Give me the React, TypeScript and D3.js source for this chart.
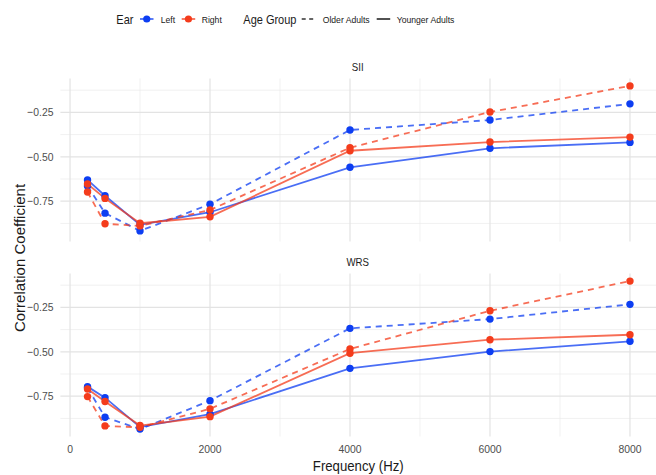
import React from "react";
import * as d3 from "d3";

const freqs = [250, 500, 1000, 2000, 4000, 6000, 8000];
const panels = ["SII", "WRS"];

const siiLeftYounger = [-0.63, -0.719, -0.883, -0.812, -0.559, -0.452, -0.419];
const siiLeftOlder = [-0.664, -0.817, -0.917, -0.767, -0.349, -0.293, -0.202];
const siiRightYounger = [-0.653, -0.734, -0.874, -0.838, -0.466, -0.417, -0.389];
const siiRightOlder = [-0.698, -0.877, -0.889, -0.799, -0.449, -0.248, -0.101];

const wrsLeftYounger = [-0.696, -0.758, -0.924, -0.851, -0.593, -0.499, -0.441];
const wrsLeftOlder = [-0.703, -0.868, -0.935, -0.775, -0.368, -0.316, -0.233];
const wrsRightYounger = [-0.709, -0.78, -0.915, -0.865, -0.508, -0.432, -0.404];
const wrsRightOlder = [-0.752, -0.917, -0.925, -0.821, -0.484, -0.269, -0.102];

const xTicks = [0, 2000, 4000, 6000, 8000];
const xMinor = [1000, 3000, 5000, 7000];
const yTicks = [-0.25, -0.5, -0.75];
const yMinor = [-0.125, -0.375, -0.625, -0.875];

const ears = ["Left", "Right"];
const ages = ["Older Adults", "Younger Adults"];

const earColor: Record<string, string> = { Left: "#0d3ef2", Right: "#f43c1c" };
const ageDash: Record<string, string> = { "Older Adults": "6 5", "Younger Adults": "none" };

const seriesByPanel: Record<string, { ear: string; age: string; values: number[] }[]> = {
  SII: [
    { ear: "Left", age: "Older Adults", values: siiLeftOlder },
    { ear: "Left", age: "Younger Adults", values: siiLeftYounger },
    { ear: "Right", age: "Older Adults", values: siiRightOlder },
    { ear: "Right", age: "Younger Adults", values: siiRightYounger },
  ],
  WRS: [
    { ear: "Left", age: "Older Adults", values: wrsLeftOlder },
    { ear: "Left", age: "Younger Adults", values: wrsLeftYounger },
    { ear: "Right", age: "Older Adults", values: wrsRightOlder },
    { ear: "Right", age: "Younger Adults", values: wrsRightYounger },
  ],
};

const W = 656;
const H = 475;
const SX = 0.88; // horizontal text compression seen in the reference
const FONT = "'Liberation Sans', Arial, Helvetica, sans-serif";

function HText({ x, y, anchor = "middle", size, fill = "#1a1a1a", children }: any) {
  return (
    <text
      transform={`translate(${x},${y}) scale(${SX},1)`}
      textAnchor={anchor}
      fontSize={size}
      fill={fill}
      fontFamily={FONT}
    >
      {children}
    </text>
  );
}

export default function App() {
  const allVals = panels.flatMap((p) => seriesByPanel[p].flatMap((s) => s.values));
  const [ymin, ymax] = d3.extent(allVals) as [number, number];
  const ypad = (ymax - ymin) * 0.05;
  const [xmin, xmax] = d3.extent(freqs) as [number, number];
  const xpad = (xmax - xmin) * 0.05;

  const panelLeft = 60.4;
  const panelRight = 657.1;
  const panelH = 163;
  const panelTops = [78.5, 273.5];

  const x = d3.scaleLinear().domain([xmin - xpad, xmax + xpad]).range([panelLeft, panelRight]);

  return (
    <svg width={W} height={H} style={{ position: "absolute", left: 0, top: 0, background: "#fff" }}>
      <rect x={0} y={0} width={W} height={H} fill="#fff" />
      {/* Legend */}
      <g>
        <HText x={116.3} y={23.5} anchor="start" size={12.5}>Ear</HText>
        {ears.map((e, i) => {
          const kx = [140, 181.7][i];
          const tx = [160.7, 201.7][i];
          return (
            <g key={e}>
              <line x1={kx} x2={kx + 13.5} y1={19} y2={19} stroke={earColor[e]} strokeWidth={1.7} strokeOpacity={0.8} />
              <circle cx={kx + 6.75} cy={19} r={3.6} fill={earColor[e]} />
              <HText x={tx} y={22.5} anchor="start" size={9.8}>{e}</HText>
            </g>
          );
        })}
        <HText x={243.3} y={23.5} anchor="start" size={12.5}>Age Group</HText>
        {ages.map((a, i) => {
          const kx = [301.7, 376.7][i];
          const tx = [322.7, 396.7][i];
          return (
            <g key={a}>
              <line x1={kx} x2={kx + 13.5} y1={19} y2={19} stroke="#333" strokeWidth={1.7} strokeDasharray={a === "Older Adults" ? "4 3.5" : "none"} />
              <HText x={tx} y={22.5} anchor="start" size={9.8}>{a}</HText>
            </g>
          );
        })}
      </g>

      {panels.map((p, pi) => {
        const top = panelTops[pi];
        const y = d3.scaleLinear().domain([ymin - ypad, ymax + ypad]).range([top + panelH, top]);
        const line = d3
          .line<number>()
          .x((_, i) => x(freqs[i]))
          .y((v) => y(v));
        return (
          <g key={p}>
            <defs>
              <clipPath id={`clip-${p}`}>
                <rect x={panelLeft - 5} y={top - 5} width={panelRight - panelLeft + 10} height={panelH + 10} />
              </clipPath>
            </defs>
            {/* grid */}
            {yMinor.map((t) => (
              <line key={"ym" + t} x1={panelLeft} x2={panelRight} y1={y(t)} y2={y(t)} stroke="#ebebeb" strokeWidth={0.7} />
            ))}
            {xMinor.map((t) => (
              <line key={"xm" + t} x1={x(t)} x2={x(t)} y1={top} y2={top + panelH} stroke="#ebebeb" strokeWidth={0.7} />
            ))}
            {yTicks.map((t) => (
              <line key={"yt" + t} x1={panelLeft} x2={panelRight} y1={y(t)} y2={y(t)} stroke="#e3e3e3" strokeWidth={1.2} />
            ))}
            {xTicks.map((t) => (
              <line key={"xt" + t} x1={x(t)} x2={x(t)} y1={top} y2={top + panelH} stroke="#e3e3e3" strokeWidth={1.2} />
            ))}
            {/* y tick labels */}
            {yTicks.map((t) => (
              <HText key={"yl" + t} x={53.5} y={y(t) + 4} anchor="end" size={11.8} fill="#4d4d4d">
                {d3.format(".2f")(t)}
              </HText>
            ))}
            {/* strip */}
            <HText x={(panelLeft + panelRight) / 2 - 1} y={top - 8} size={11} fill="#1a1a1a">{p}</HText>
            {/* series */}
            <g clipPath={`url(#clip-${p})`}>
              {seriesByPanel[p].map((s) => (
                <path
                  key={s.ear + s.age}
                  d={line(s.values) || ""}
                  fill="none"
                  stroke={earColor[s.ear]}
                  strokeOpacity={0.75}
                  strokeWidth={1.8}
                  strokeDasharray={ageDash[s.age]}
                />
              ))}
              {seriesByPanel[p].map((s) =>
                s.values.map((v, i) => (
                  <circle key={s.ear + s.age + i} cx={x(freqs[i])} cy={y(v)} r={3.7} fill={earColor[s.ear]} />
                ))
              )}
            </g>
          </g>
        );
      })}

      {/* x tick labels (bottom panel) */}
      {xTicks.map((t) => (
        <HText key={"xl" + t} x={x(t)} y={453} size={11.8} fill="#4d4d4d">{String(t)}</HText>
      ))}
      <HText x={(panelLeft + panelRight) / 2 - 0.5} y={471} size={15} fill="#1a1a1a">Frequency (Hz)</HText>
      <text
        transform={`translate(25,258) rotate(-90)`}
        textAnchor="middle"
        fontSize={15}
        fill="#1a1a1a"
        fontFamily={FONT}
      >
        Correlation Coefficient
      </text>
    </svg>
  );
}
